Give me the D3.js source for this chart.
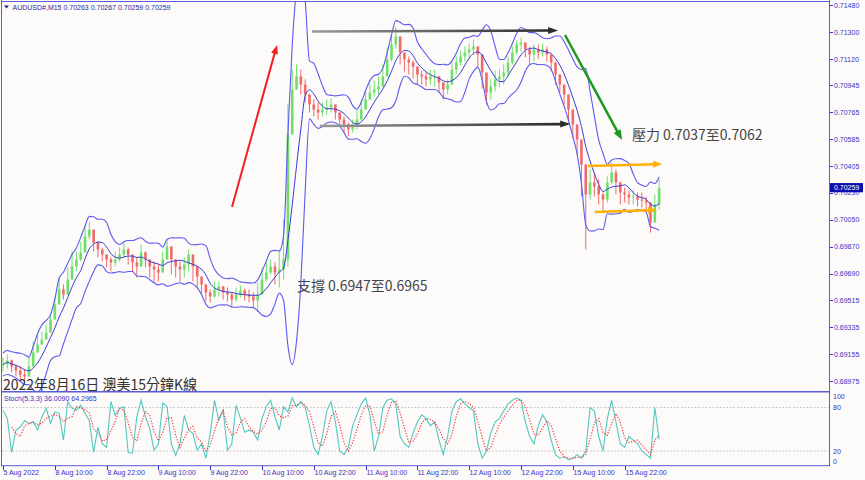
<!DOCTYPE html>
<html><head><meta charset="utf-8">
<script src="https://cdn.jsdelivr.net/npm/d3@7"></script>
<style>
html,body{margin:0;padding:0;background:#fdfafa;}
svg{display:block;}
.ax{font-family:"Liberation Sans",Arial,sans-serif;font-size:7px;fill:#3434c4;}
</style></head><body>
<svg id="c" width="865" height="480"></svg>
<script>
// ---------- DATA (hourly aggregation of the M15 chart) ----------
const symbolTitle = "AUDUSD#,M15  0.70263 0.70267 0.70259 0.70259";
const stochTitle = "Stoch(5,3,3) 36.0090 64.2965";
const chartTitle = "2022年8月16日 澳美15分鐘K線";
const timeLabels = ["5 Aug 2022","8 Aug 10:00","8 Aug 22:00","9 Aug 10:00","9 Aug 22:00","10 Aug 10:00","10 Aug 22:00","11 Aug 10:00","11 Aug 22:00","12 Aug 10:00","12 Aug 22:00","15 Aug 10:00","15 Aug 22:00"];
const barsPerLabel = 12;
const priceTicks = [0.71480,0.71300,0.71120,0.70945,0.70765,0.70585,0.70405,0.70230,0.70050,0.69870,0.69690,0.69515,0.69335,0.69155,0.68975];
const lastPrice = 0.70259;
const stochLevels = [100,80,20,0];

const closes = [0.69085,0.69112,0.69072,0.69045,0.69018,0.69005,0.69072,0.69165,0.69218,0.69252,
0.69298,0.69385,0.69485,0.69585,0.69551,0.69651,0.69738,0.69785,0.69831,0.69938,
0.69984,0.69898,0.69851,0.69818,0.69785,0.69765,0.69785,0.69818,0.69851,0.69818,
0.69765,0.69738,0.69831,0.69785,0.69738,0.69718,0.69698,0.69785,0.69871,0.69785,
0.69738,0.69718,0.69751,0.69818,0.69738,0.69671,0.69618,0.69565,0.69538,0.69585,
0.69605,0.69565,0.69551,0.69518,0.69551,0.69578,0.69551,0.69538,0.69511,0.69551,
0.69651,0.69698,0.69738,0.69698,0.69718,0.69785,0.70617,0.70917,0.71004,0.70950,
0.70884,0.70817,0.70784,0.70764,0.70784,0.70797,0.70817,0.70764,0.70717,0.70684,
0.70651,0.70671,0.70717,0.70784,0.70850,0.70897,0.70917,0.70937,0.71004,0.71117,
0.71217,0.71270,0.71164,0.71117,0.71097,0.71070,0.71017,0.71004,0.70984,0.71004,
0.71004,0.70964,0.70917,0.70950,0.71050,0.71097,0.71137,0.71164,0.71184,0.71204,
0.71150,0.71030,0.70897,0.70937,0.70984,0.71004,0.71030,0.71097,0.71164,0.71217,
0.71230,0.71184,0.71150,0.71184,0.71164,0.71184,0.71150,0.71097,0.71017,0.70950,
0.70884,0.70784,0.70684,0.70584,0.70417,0.70218,0.70298,0.70271,0.70218,0.70184,
0.70298,0.70364,0.70298,0.70231,0.70218,0.70198,0.70204,0.70184,0.70178,0.70164,
0.70031,0.70151,0.70259];

const highs = [0.69132,0.69152,0.69118,0.69085,0.69072,0.69052,0.69138,0.69238,0.69285,0.69305,
0.69352,0.69418,0.69531,0.69665,0.69618,0.69731,0.69838,0.69838,0.69904,0.70018,
0.70038,0.69951,0.69904,0.69864,0.69818,0.69798,0.69838,0.69864,0.69898,0.69864,
0.69818,0.69798,0.69884,0.69838,0.69785,0.69771,0.69751,0.69838,0.69911,0.69838,
0.69785,0.69771,0.69798,0.69851,0.69785,0.69718,0.69671,0.69618,0.69585,0.69638,
0.69638,0.69598,0.69598,0.69565,0.69598,0.69611,0.69591,0.69585,0.69565,0.69631,
0.69731,0.69765,0.69785,0.69765,0.69851,0.70051,0.70817,0.71050,0.71084,0.71050,
0.70984,0.70884,0.70850,0.70830,0.70830,0.70850,0.70857,0.70817,0.70764,0.70737,
0.70697,0.70717,0.70784,0.70850,0.70910,0.70957,0.70977,0.71004,0.71084,0.71197,
0.71283,0.71337,0.71217,0.71164,0.71137,0.71110,0.71057,0.71044,0.71030,0.71050,
0.71050,0.71004,0.70964,0.70984,0.71097,0.71137,0.71177,0.71204,0.71224,0.71250,
0.71190,0.71084,0.70964,0.70984,0.71044,0.71050,0.71084,0.71137,0.71204,0.71244,
0.71264,0.71230,0.71204,0.71217,0.71217,0.71224,0.71204,0.71137,0.71057,0.70990,
0.70924,0.70844,0.70764,0.70651,0.70517,0.70338,0.70384,0.70364,0.70318,0.70231,
0.70338,0.70431,0.70384,0.70284,0.70264,0.70244,0.70251,0.70231,0.70231,0.70204,
0.70151,0.70218,0.70318];

const lows = [0.69038,0.69058,0.69032,0.69005,0.68985,0.68972,0.69018,0.69138,0.69198,0.69218,
0.69272,0.69305,0.69398,0.69538,0.69518,0.69605,0.69665,0.69705,0.69771,0.69838,
0.69918,0.69838,0.69798,0.69771,0.69731,0.69705,0.69738,0.69771,0.69798,0.69751,
0.69705,0.69665,0.69751,0.69731,0.69665,0.69638,0.69638,0.69718,0.69798,0.69685,
0.69665,0.69638,0.69665,0.69705,0.69638,0.69598,0.69551,0.69505,0.69498,0.69531,
0.69538,0.69518,0.69505,0.69465,0.69505,0.69531,0.69511,0.69498,0.69465,0.69438,
0.69605,0.69638,0.69685,0.69618,0.69598,0.69651,0.69738,0.70784,0.70950,0.70884,
0.70830,0.70764,0.70737,0.70717,0.70737,0.70750,0.70764,0.70717,0.70671,0.70631,
0.70604,0.70631,0.70651,0.70731,0.70810,0.70857,0.70870,0.70884,0.70950,0.71037,
0.71104,0.71190,0.71084,0.71037,0.71017,0.70990,0.70950,0.70950,0.70937,0.70950,
0.70937,0.70897,0.70850,0.70884,0.70964,0.71017,0.71077,0.71104,0.71124,0.71150,
0.71064,0.70924,0.70817,0.70850,0.70904,0.70930,0.70950,0.70997,0.71084,0.71150,
0.71170,0.71130,0.71084,0.71104,0.71124,0.71137,0.71104,0.71037,0.70950,0.70897,
0.70817,0.70704,0.70591,0.70484,0.70204,0.69851,0.70184,0.70204,0.70151,0.70098,
0.70164,0.70284,0.70218,0.70151,0.70164,0.70151,0.70151,0.70138,0.70131,0.70104,
0.69964,0.70051,0.70118];

const stochK = [76,65,18,49,53,62,58,60,49,67,
79,58,74,72,35,88,79,76,83,72,
62,18,53,30,25,88,69,79,81,18,
17,67,90,67,51,21,30,86,81,30,
14,30,69,49,44,21,30,10,44,90,
62,76,21,30,83,65,46,49,46,35,
65,81,90,67,49,81,74,93,81,88,
80,55,25,15,40,75,88,60,20,15,
25,55,70,85,93,70,20,40,80,90,
92,85,40,30,25,45,60,70,65,55,
60,35,15,40,75,88,92,85,80,75,
30,10,20,45,60,65,75,85,90,93,
90,60,40,30,55,70,60,35,15,10,
12,8,10,15,10,20,80,75,40,20,
65,90,60,30,25,40,35,30,20,15,
10,80,36];

// annotations in data space: [barIndex1, price1, barIndex2, price2]
const redArrow = [53.05,0.70134,63.47,0.71214];
const greyArrows = [[71.6,0.71303,128.6,0.71310],[73.4,0.70674,131.4,0.70687]];
const greenArrow = [130.2,0.71280,143.4,0.70581];
const orangeArrows = [[135.5,0.70407,152.7,0.70421],[137.1,0.70101,151.5,0.70114]];
const supportText = {i:68.1, p:0.69575, t:"支撐 0.6947至0.6965"};
const resistText = {i:145.7, p:0.70581, t:"壓力 0.7037至0.7062"};

// ---------- CHART ----------
const svg = d3.select("#c");
const N = closes.length;
const pxPerBar = 51.8/12;
const x = d3.scaleLinear().domain([0, N-1]).range([3, 3+(N-1)*pxPerBar]);
const y = d3.scaleLinear().domain([0.68975, 0.71480]).range([381, 5]);
const ys = d3.scaleLinear().domain([0,100]).range([465.5, 393]);
const frame = "#5c5cd8";

svg.append("rect").attr("width",865).attr("height",480).attr("fill","#fdfafa");
const defs = svg.append("defs");
defs.append("clipPath").attr("id","cm").append("rect").attr("x",2).attr("y",2).attr("width",827).attr("height",389);
defs.append("clipPath").attr("id","cs").append("rect").attr("x",2).attr("y",393).attr("width",827).attr("height",72);
const gr = defs.append("linearGradient").attr("id","gg").attr("x1","0").attr("x2","1").attr("y1","0").attr("y2","0");
gr.append("stop").attr("offset","0").attr("stop-color","#9a9a9a");
gr.append("stop").attr("offset","1").attr("stop-color","#2c2c2c");

const gm = svg.append("g").attr("clip-path","url(#cm)");

// candles
const candles = closes.map((c,i)=>{
  const o = i>0 ? closes[i-1] : c;
  return {i,o,c,h:Math.max(highs[i],o,c),l:Math.min(lows[i],o,c)};
});
const upC = "#6ee06a", dnC = "#f06a6a";
gm.selectAll("line.wick").data(candles).join("line")
  .attr("x1",d=>x(d.i)).attr("x2",d=>x(d.i))
  .attr("y1",d=>y(d.h)).attr("y2",d=>y(d.l))
  .attr("stroke",d=>d.c>=d.o?upC:dnC).attr("stroke-width",1);
gm.selectAll("rect.body").data(candles).join("rect")
  .attr("x",d=>x(d.i)-1.3).attr("width",2.6)
  .attr("y",d=>y(Math.max(d.o,d.c)))
  .attr("height",d=>Math.max(1,Math.abs(y(d.o)-y(d.c))))
  .attr("fill",d=>d.c>=d.o?upC:dnC);

// Bollinger bands: 20 x M15 = 5 hourly bars; the deviation uses every price
// sampled inside those hours (high, low, close) to stand for the 20 M15 closes.
const bb = [];
closes.forEach((c,i)=>{
  const a = Math.max(0,i-4);
  const w = closes.slice(a, i+1);
  const m = d3.mean(w);
  const s = [].concat(w, highs.slice(a,i+1), lows.slice(a,i+1));
  const sd = Math.sqrt(d3.mean(s, v=>(v-m)*(v-m)));
  bb.push({i, m, u:m+2*sd, l:m-2*sd});
});
const ln = key => d3.line().x(d=>x(d.i)).y(d=>y(d[key])).curve(d3.curveMonotoneX);
gm.append("path").datum(bb).attr("d",ln("u")).attr("fill","none").attr("stroke","#5a5af0").attr("stroke-width",1.1);
gm.append("path").datum(bb).attr("d",ln("l")).attr("fill","none").attr("stroke","#5a5af0").attr("stroke-width",1.1);
gm.append("path").datum(bb).attr("d",ln("m")).attr("fill","none").attr("stroke","#3a3ad4").attr("stroke-width",1);

// annotations
function arrow(a, color, w, hl, hw){
  const x1=x(a[0]), y1=y(a[1]), x2=x(a[2]), y2=y(a[3]);
  const dx=x2-x1, dy=y2-y1, L=Math.hypot(dx,dy), ux=dx/L, uy=dy/L;
  const bx=x2-ux*hl, by=y2-uy*hl;
  svg.append("line").attr("x1",x1).attr("y1",y1).attr("x2",bx+ux*1).attr("y2",by+uy*1)
    .attr("stroke",color).attr("stroke-width",w);
  svg.append("polygon").attr("points",[[x2,y2],[bx-uy*hw,by+ux*hw],[bx+uy*hw,by-ux*hw]].map(p=>p.join(",")).join(" "))
    .attr("fill",color==="url(#gg)"?"#2c2c2c":color);
}
arrow(redArrow,"#f02020",2,9,3.5);
greyArrows.forEach(a=>arrow(a,"url(#gg)",2.6,10,3.5));
arrow(greenArrow,"#1c9a1c",2.5,10,4);
orangeArrows.forEach(a=>arrow(a,"#ffb000",2.6,9,3.5));

const annoFont = '"Noto Sans CJK TC","Noto Sans",sans-serif';
[supportText,resistText].forEach(t=>{
  svg.append("text").attr("x",x(t.i)).attr("y",y(t.p)).text(t.t)
    .attr("font-family",annoFont).attr("font-size",14).attr("fill","#454545");
});

// chart title
svg.append("text").attr("x",3).attr("y",390).text(chartTitle)
  .attr("font-family",annoFont).attr("font-size",15).attr("fill","#333")
  .attr("textLength",194).attr("lengthAdjust","spacingAndGlyphs");

// header
svg.append("polygon").attr("points","4,5.5 9,5.5 6.5,8.5").attr("fill","#20207a");
svg.append("text").attr("class","ax").attr("x",12.5).attr("y",10).text(symbolTitle).style("fill","#2a2a9a");

// ---------- STOCHASTIC ----------
const gs = svg.append("g").attr("clip-path","url(#cs)");
[80,20].forEach(v=>{
  gs.append("line").attr("x1",2).attr("x2",829).attr("y1",ys(v)).attr("y2",ys(v))
    .attr("stroke","#bdbdbd").attr("stroke-dasharray","1.5,2");
});
const kData = stochK.map((v,i)=>({i,v}));
const dData = stochK.map((v,i)=>i<2?null:{i, v:d3.mean(stochK.slice(i-2,i+1))}).filter(Boolean);
const sl = d3.line().x(d=>x(d.i)).y(d=>ys(d.v));
gs.append("path").datum(kData).attr("d",sl).attr("fill","none").attr("stroke","#52c8c0").attr("stroke-width",1.1);
gs.append("path").datum(dData).attr("d",sl).attr("fill","none").attr("stroke","#f03a3a").attr("stroke-width",1.2).attr("stroke-dasharray","1.2,1.6");
svg.append("text").attr("class","ax").attr("x",4).attr("y",401).text(stochTitle);

// ---------- FRAMES ----------
svg.append("line").attr("x1",1.5).attr("x2",1.5).attr("y1",0).attr("y2",466).attr("stroke",frame);
svg.append("line").attr("x1",1).attr("x2",830).attr("y1",1.5).attr("y2",1.5).attr("stroke",frame);
svg.append("line").attr("x1",829.5).attr("x2",829.5).attr("y1",0).attr("y2",466).attr("stroke",frame);
svg.append("line").attr("x1",1).attr("x2",830).attr("y1",391.8).attr("y2",391.8).attr("stroke",frame).attr("stroke-width",1.4);
svg.append("line").attr("x1",1).attr("x2",830).attr("y1",465.7).attr("y2",465.7).attr("stroke",frame);

// price axis
const pa = svg.append("g");
priceTicks.forEach(p=>{
  pa.append("line").attr("x1",830).attr("x2",833).attr("y1",Math.round(y(p))+0.5).attr("y2",Math.round(y(p))+0.5).attr("stroke","#3434c4");
  pa.append("text").attr("class","ax").attr("x",834).attr("y",y(p)+2.6).text(p.toFixed(5));
});
const ly = y(lastPrice);
pa.append("rect").attr("x",830).attr("y",ly-5.2).attr("width",33).attr("height",9.2).attr("fill","#0e0eaa");
pa.append("text").attr("class","ax").attr("x",834).attr("y",ly+2.2).text(lastPrice.toFixed(5)).style("fill","#ffffff");

// stoch axis
stochLevels.forEach(v=>{
  const yy = v===100 ? 399.2 : v===0 ? 463.8 : ys(v)+2.6;
  svg.append("text").attr("class","ax").attr("x",833).attr("y",yy).text(v);
});

// time axis
timeLabels.forEach((t,k)=>{
  const xx = Math.round(x(k*barsPerLabel))+0.5;
  svg.append("line").attr("x1",xx).attr("x2",xx).attr("y1",466).attr("y2",470).attr("stroke","#3434c4");
  svg.append("text").attr("class","ax").attr("x",xx).attr("y",474.5).text(t);
});
</script></body></html>
